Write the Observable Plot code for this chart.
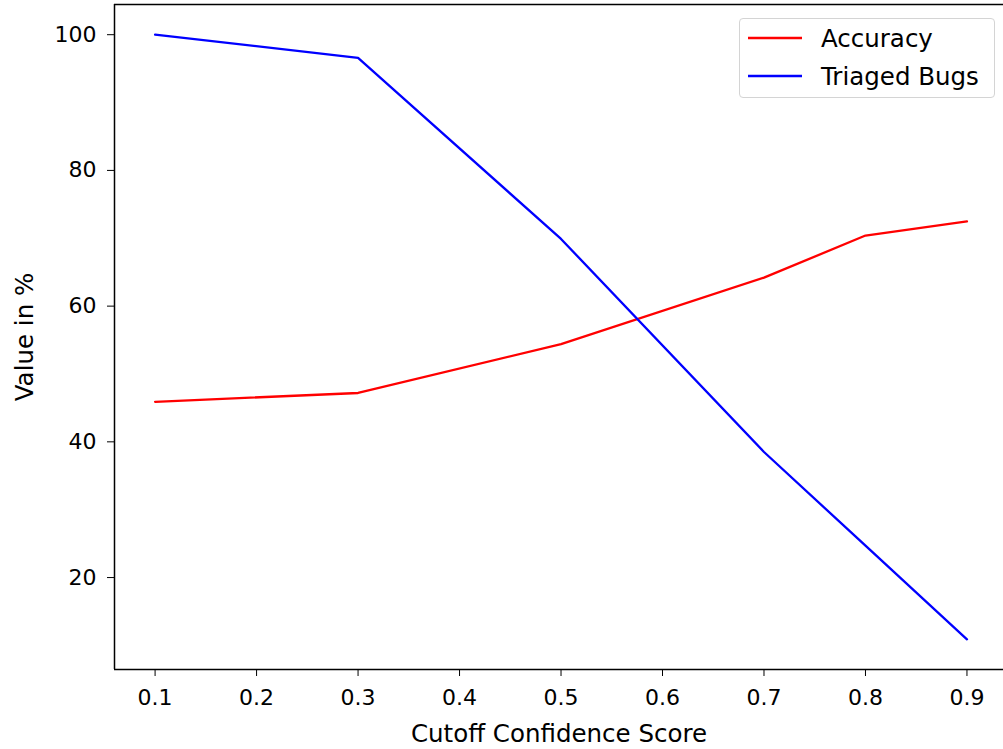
<!DOCTYPE html>
<html>
<head>
<meta charset="utf-8">
<script src="https://cdn.jsdelivr.net/npm/d3@7"></script>
<script src="https://cdn.jsdelivr.net/npm/@observablehq/plot@0.6"></script>
<style>
  html, body { margin: 0; padding: 0; background: #fff; }
  #wrap { position: relative; width: 1003px; height: 749px; font-family: "DejaVu Sans", sans-serif; }
  #legend { position: absolute; left: 739px; top: 18px; width: 254px; height: 78px;
    border: 1px solid #d4d4d4; border-radius: 4px; background: rgba(255,255,255,0.8); box-sizing: content-box; }
  .item { position: absolute; left: 8px; height: 30px; display: flex; align-items: center; font-size: 24.5px; color: #000; }
  .item svg { margin-right: 19px; }
</style>
</head>
<body>
<div id="wrap"><div id="legend"></div></div>
<script>
// ---- data ----
const cutoffs = [0.1, 0.3, 0.5, 0.7, 0.8, 0.9];
const accuracy = [45.9, 47.2, 54.4, 64.2, 70.4, 72.5];
const triagedBugs = [100, 96.6, 69.9, 38.5, 24.7, 10.9];
const seriesNames = ["Accuracy", "Triaged Bugs"];
const seriesColors = ["red", "blue"];
const xTicks = [0.1, 0.2, 0.3, 0.4, 0.5, 0.6, 0.7, 0.8, 0.9];
const yTicks = [20, 40, 60, 80, 100];
const xLimits = [0.06, 0.936];
const yLimits = [6.45, 104.45];

const rows = [];
cutoffs.forEach((c, i) => {
  rows.push({x: c, value: accuracy[i], series: seriesNames[0]});
  rows.push({x: c, value: triagedBugs[i], series: seriesNames[1]});
});

const chart = Plot.plot({
  width: 1003,
  height: 749,
  marginLeft: 114,
  marginRight: 0,
  marginTop: 4,
  marginBottom: 80,
  style: {fontFamily: "DejaVu Sans, sans-serif", fontSize: "22px", color: "#000", background: "transparent"},
  x: {domain: xLimits},
  y: {domain: yLimits},
  color: {domain: seriesNames, range: seriesColors},
  marks: [
    Plot.axisX({ticks: xTicks, tickFormat: d => d.toFixed(1), tickSize: 7, tickPadding: 13, fontSize: 22,
      label: null}),
    Plot.axisX({ticks: [], tickSize: 0, fontSize: 24.5,
      label: "Cutoff Confidence Score", labelAnchor: "center", labelArrow: "none", labelOffset: 72}),
    Plot.axisY({ticks: yTicks, tickFormat: d => String(d), tickSize: 7, tickPadding: 11, fontSize: 22,
      label: null}),
    Plot.axisY({ticks: [], tickSize: 0, fontSize: 24.5,
      label: "Value in %", labelAnchor: "center", labelArrow: "none", labelOffset: 99}),
    Plot.ruleX([xLimits[0]], {stroke: "#000", strokeWidth: 1.5}),
    Plot.ruleY([yLimits[0], yLimits[1]], {stroke: "#000", strokeWidth: 1.5}),
    Plot.line(rows, {x: "x", y: "value", z: "series", stroke: "series", strokeWidth: 2.3})
  ]
});
document.getElementById("wrap").prepend(chart);

const legend = document.getElementById("legend");
seriesNames.forEach((name, i) => {
  const item = document.createElement("div");
  item.className = "item";
  item.style.top = (4 + i * 38) + "px";
  item.innerHTML = `<svg width="54" height="6"><line x1="0" y1="3" x2="54" y2="3" stroke="${seriesColors[i]}" stroke-width="2.3"/></svg><span>${name}</span>`;
  legend.appendChild(item);
});
</script>
</body>
</html>
